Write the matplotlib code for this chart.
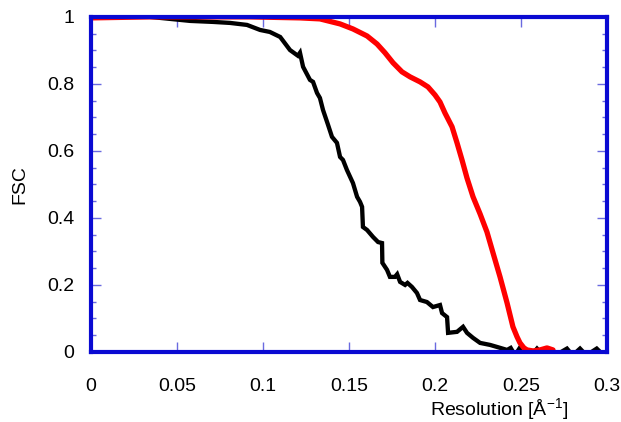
import matplotlib
matplotlib.use("Agg")
import matplotlib.pyplot as plt
from matplotlib.ticker import MultipleLocator, FuncFormatter

plt.rcParams['font.family'] = ['Liberation Sans', 'DejaVu Sans']
plt.rcParams['mathtext.fontset'] = 'custom'
plt.rcParams['mathtext.rm'] = 'Liberation Sans'
plt.rcParams['mathtext.it'] = 'Liberation Sans'

# krivka 1 (cervena) - hladka FSC
red_x = [0.0, 0.0343, 0.0924, 0.1215, 0.1331, 0.1448, 0.1523, 0.1605, 0.1663, 0.1709,
         0.1756, 0.1808, 0.1855, 0.1913, 0.1959, 0.2000, 0.2029, 0.2058, 0.2099, 0.2128,
         0.2157, 0.2186, 0.2221, 0.2262, 0.2302, 0.2337, 0.2378, 0.2419, 0.2453, 0.2477,
         0.2494, 0.2517, 0.2535, 0.2570, 0.2610, 0.2651, 0.2686]
red_y = [0.997, 1.0, 1.0, 0.997, 0.994, 0.979, 0.964, 0.943, 0.919, 0.893,
         0.863, 0.836, 0.821, 0.806, 0.791, 0.767, 0.746, 0.713, 0.672, 0.624,
         0.573, 0.519, 0.463, 0.412, 0.358, 0.296, 0.224, 0.146, 0.075, 0.045,
         0.027, 0.012, 0.006, 0.003, 0.006, 0.012, 0.006]

# krivka 2 (cierna) - zubata FSC
black_x = [0.000, 0.0343, 0.0576, 0.0709, 0.0808, 0.0907, 0.0983, 0.1040, 0.1100, 0.1157,
           0.1203, 0.1215, 0.1233, 0.1273, 0.1291, 0.1314, 0.1331, 0.1349, 0.1378, 0.1401,
           0.1430, 0.1448, 0.1465, 0.1488, 0.1523, 0.1547, 0.1564, 0.1576, 0.1581, 0.1605,
           0.1640, 0.1669, 0.1692, 0.1694, 0.1721, 0.1738, 0.1767, 0.1780, 0.1797, 0.1826,
           0.1840, 0.1866, 0.1895, 0.1913, 0.1953, 0.1988, 0.2029, 0.2041, 0.2070, 0.2076,
           0.2128, 0.2163, 0.2186, 0.2221, 0.2262, 0.2320, 0.2360, 0.2419, 0.2440, 0.2465,
           0.2490, 0.2520, 0.2560, 0.2593, 0.2630, 0.2700, 0.2767, 0.2800, 0.2843, 0.2880,
           0.2940, 0.2980, 0.3000]
black_y = [1.000, 1.000, 0.988, 0.985, 0.982, 0.976, 0.961, 0.955, 0.940, 0.901,
           0.884, 0.893, 0.851, 0.812, 0.806, 0.773, 0.758, 0.722, 0.678, 0.642,
           0.624, 0.582, 0.573, 0.543, 0.504, 0.463, 0.448, 0.433, 0.373, 0.364,
           0.343, 0.328, 0.325, 0.266, 0.245, 0.224, 0.224, 0.232, 0.209, 0.200,
           0.206, 0.194, 0.176, 0.155, 0.149, 0.134, 0.140, 0.116, 0.104, 0.057,
           0.060, 0.075, 0.057, 0.042, 0.027, 0.021, 0.015, 0.006, 0.012, -0.010,
           0.010, -0.010, -0.010, 0.010, -0.010, -0.010, 0.010, -0.010, 0.010, -0.010,
           0.010, -0.010, -0.010]

x_ticks = [0, 0.05, 0.1, 0.15, 0.2, 0.25, 0.3]
y_ticks = [0, 0.2, 0.4, 0.6, 0.8, 1.0]

BLUE = '#0a0ad2'
TICK_BLUE = '#6a6ae0'

fig = plt.figure(figsize=(6.21, 4.22), dpi=100)
ax = fig.add_axes([0.1465, 0.166, 0.831, 0.794])

ax.plot(black_x, black_y, color='black', lw=3.1, solid_joinstyle='miter')
ax.plot(red_x, red_y, color='#ff0000', lw=3.8, solid_capstyle='round')

ax.set_xlim(0, 0.3)
ax.set_ylim(0, 1)
ax.set_xticks(x_ticks)
ax.set_yticks(y_ticks)
ax.yaxis.set_minor_locator(MultipleLocator(0.05))
ax.xaxis.set_major_formatter(FuncFormatter(lambda v, p: f"{v:g}"))
ax.yaxis.set_major_formatter(FuncFormatter(lambda v, p: f"{v:g}"))

for s in ax.spines.values():
    s.set_color(BLUE)
    s.set_linewidth(3)

ax.tick_params(axis='x', which='major', direction='in', length=7, width=1,
               color=TICK_BLUE, top=True, labelsize=14, pad=19)
ax.tick_params(axis='y', which='major', direction='in', length=7, width=1,
               color=TICK_BLUE, right=True, labelsize=14, pad=12)
ax.tick_params(axis='y', which='minor', direction='in', length=3.5, width=1,
               color=TICK_BLUE, right=True)

ax.set_ylabel('FSC', fontsize=14)
ax.yaxis.set_label_coords(-0.122, 0.5)
ax.set_xlabel(r'Resolution [Å$^{-1}$]', fontsize=14, va='center')
ax.xaxis.set_label_coords(0.79, -0.171)

fig.savefig('out.png', dpi=100)
